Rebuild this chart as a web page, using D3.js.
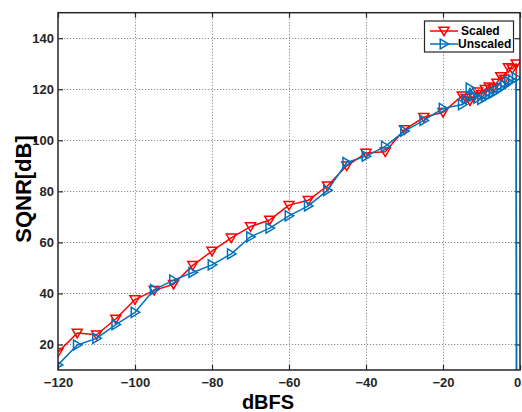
<!DOCTYPE html>
<html>
<head>
<meta charset="utf-8">
<script src="https://cdn.jsdelivr.net/npm/d3@7"></script>
<style>
  html, body { margin: 0; padding: 0; background: #fff; }
  svg { display: block; font-family: "Liberation Sans", Arial, sans-serif; }
</style>
</head>
<body>
<svg id="chart" width="522" height="412"></svg>
<script>
// Input level (dBFS) at which each run was measured
const dbfs = [-120, -115, -110, -105, -100, -95, -90, -85, -80, -75, -70, -65, -60,
  -55, -50, -45, -40, -35, -30, -25, -20,
  -15, -14, -13, -12, -11, -10, -9, -8, -7, -6, -5, -4, -3, -2, -1, -0.9];

// SQNR with input scaling applied
const scaled = [17, 24.5, 23.8, 30, 37.6, 41.2, 43.6, 51, 56.6, 61.8, 66.2, 68.8, 74.6,
  76.5, 82.2, 90, 95, 95.5, 104.2, 109, 111,
  117.5, 116.5, 115.5, 117, 119, 118, 120, 121, 120.5, 122.5, 125, 124, 128.5, 128, 130, 0];

// SQNR without input scaling
const unscaled = [12, 19.8, 22.4, 27.8, 32.6, 41.5, 45.2, 48.2, 51.2, 55.5, 62.2, 65.6, 70.4,
  74.3, 80.4, 91.3, 93.8, 97.6, 103.6, 107.8, 112.5,
  114, 116, 120.5, 117.5, 116.5, 116, 117, 118, 118.5, 119.5, 120.5, 121.5, 123, 123.5, 124.5, 0];

const xTicks = [-120, -100, -80, -60, -40, -20, 0];
const yTicks = [20, 40, 60, 80, 100, 120, 140];
const seriesNames = ["Scaled", "Unscaled"];
const seriesColors = ["#ff0000", "#0072bd"];

const svg = d3.select("#chart");
const L = 58, R = 520, T = 12.7, B = 370;
const axisColor = "#262626";

const x = d3.scaleLinear().domain([-120, 0]).range([L, R]);
const y = d3.scaleLinear().domain([10, 150]).range([B, T]);

// plot background
svg.append("rect").attr("x", L).attr("y", T).attr("width", R - L).attr("height", B - T)
  .attr("fill", "#fff");

// dotted grid
const grid = svg.append("g").attr("stroke", "#8c8c8c").attr("stroke-width", 1)
  .attr("stroke-dasharray", "1.2,1.8");
grid.selectAll(".gx").data(xTicks.filter(d => d > -120 && d < 0)).join("line")
  .attr("x1", d => Math.round(x(d)) + 0.5).attr("x2", d => Math.round(x(d)) + 0.5)
  .attr("y1", T).attr("y2", B);
grid.selectAll(".gy").data(yTicks).join("line")
  .attr("y1", d => Math.round(y(d)) + 0.5).attr("y2", d => Math.round(y(d)) + 0.5)
  .attr("x1", L).attr("x2", R);

// axes: labels outside, ticks pointing inward
const xAxis = d3.axisBottom(x).tickValues(xTicks).tickSize(-5).tickPadding(8)
  .tickFormat(d3.format("d"));
const yAxis = d3.axisLeft(y).tickValues(yTicks).tickSize(-5).tickPadding(4)
  .tickFormat(d3.format("d"));

const gx = svg.append("g").attr("transform", `translate(0,${B})`).call(xAxis);
const gy = svg.append("g").attr("transform", `translate(${L},0)`).call(yAxis);
const gxTop = svg.append("g").attr("transform", `translate(0,${T})`)
  .call(d3.axisTop(x).tickValues(xTicks).tickSize(-5).tickFormat(""));
const gyRight = svg.append("g").attr("transform", `translate(${R},0)`)
  .call(d3.axisRight(y).tickValues(yTicks).tickSize(-5).tickFormat(""));

[gx, gy, gxTop, gyRight].forEach(g => {
  g.select(".domain").remove();
  g.selectAll(".tick line").attr("stroke", axisColor).attr("stroke-width", 1.2);
  g.selectAll("text").attr("fill", axisColor).attr("font-size", 13)
    .attr("font-weight", "bold").attr("font-family", "Liberation Sans, Arial, sans-serif");
});
// keep the last x label inside the page edge
gx.selectAll(".tick text").filter(d => d === 0).attr("dx", -3);

// clip series to the axes box
svg.append("clipPath").attr("id", "plotclip")
  .append("rect").attr("x", L).attr("y", T).attr("width", R - L).attr("height", B - T);

const line = d3.line().x(d => x(d[0])).y(d => y(d[1]));
const triDown = s => `M${-s},${-s * 0.75}L${s},${-s * 0.75}L0,${s * 0.95}Z`;
const triRight = s => `M${-s * 0.75},${-s}L${-s * 0.75},${s}L${s * 0.95},0Z`;
const markerPaths = [triDown(5), triRight(5)];

const plot = svg.append("g").attr("clip-path", "url(#plotclip)");
[scaled, unscaled].forEach((vals, i) => {
  const pts = dbfs.map((d, k) => [d, vals[k]]);
  const g = plot.append("g");
  g.append("path").attr("d", line(pts)).attr("fill", "none")
    .attr("stroke", seriesColors[i]).attr("stroke-width", 1.5)
    .attr("stroke-linejoin", "round");
  g.selectAll("path.m").data(pts).join("path").attr("class", "m")
    .attr("transform", d => `translate(${x(d[0])},${y(d[1])})`)
    .attr("d", markerPaths[i]).attr("fill", "none")
    .attr("stroke", seriesColors[i]).attr("stroke-width", 1.5)
    .attr("stroke-linejoin", "miter");
});

// axes box
svg.append("rect").attr("x", L).attr("y", T).attr("width", R - L).attr("height", B - T)
  .attr("fill", "none").attr("stroke", axisColor).attr("stroke-width", 1.5);

// axis titles
svg.append("text").attr("x", 268).attr("y", 409).attr("text-anchor", "middle")
  .attr("font-size", 20).attr("font-weight", "bold").attr("fill", "#000")
  .text("dBFS");
svg.append("text").attr("transform", "translate(31,189) rotate(-90)")
  .attr("text-anchor", "middle").attr("font-size", 22).attr("font-weight", "bold")
  .attr("fill", "#000").text("SQNR[dB]");

// legend
const lg = svg.append("g");
lg.append("rect").attr("x", 424.5).attr("y", 21).attr("width", 89).attr("height", 31)
  .attr("fill", "#fff").attr("stroke", axisColor).attr("stroke-width", 1.2);
seriesNames.forEach((name, i) => {
  const yy = 31 + i * 13;
  lg.append("line").attr("x1", 430).attr("x2", 458).attr("y1", yy).attr("y2", yy)
    .attr("stroke", seriesColors[i]).attr("stroke-width", 1.5);
  lg.append("path").attr("transform", `translate(444,${yy})`).attr("d", markerPaths[i])
    .attr("fill", "none").attr("stroke", seriesColors[i]).attr("stroke-width", 1.5);
  lg.append("text").attr("x", i === 0 ? 461 : 458).attr("y", yy + 4)
    .attr("font-size", 12).attr("font-weight", "bold").attr("fill", "#000").text(name);
});
</script>
</body>
</html>
